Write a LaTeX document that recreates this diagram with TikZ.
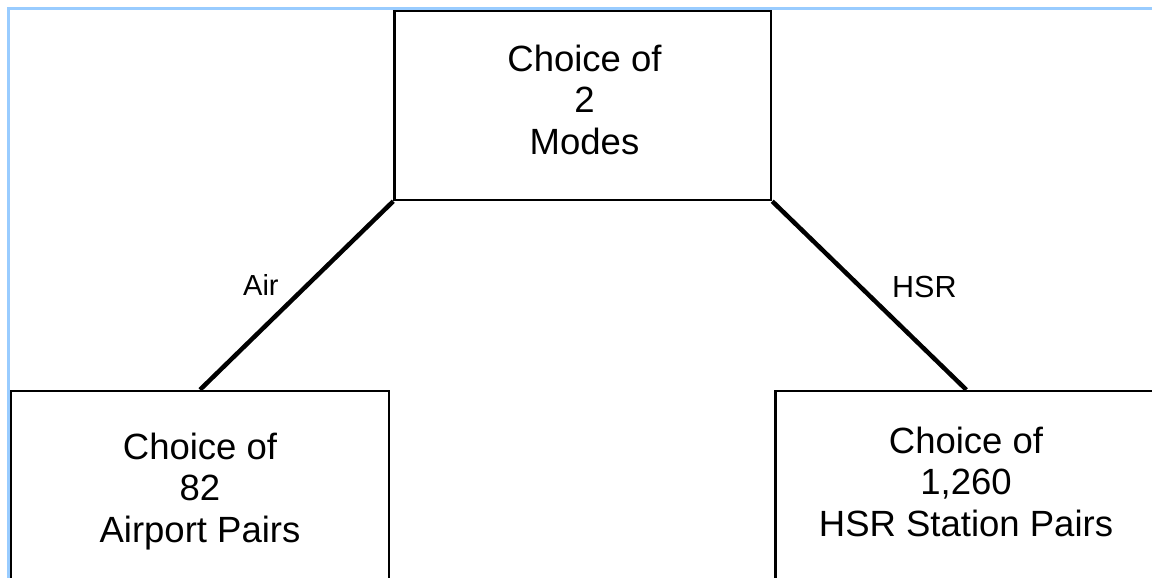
\documentclass[tikz,border=0pt]{standalone}
\usepackage{fontspec}
\setmainfont{Liberation Sans}
\definecolor{framebl}{RGB}{153,204,255}
\begin{document}
\begin{tikzpicture}[x=1pt,y=-1pt,
  boxst/.style={draw=black, line width=2.5pt, inner sep=0pt, rectangle},
  txtst/.style={font=\fontsize{36.5}{41.5}\selectfont, align=center, inner sep=0pt, anchor=north},
  lblst/.style={inner sep=0pt, anchor=base west},
  conn/.style={line width=4.5pt}]
\useasboundingbox (0,0) rectangle (1152,578);
% light blue frame
\draw[framebl, line width=3.5pt] (8.5,600) -- (8.5,8.5) -- (1170,8.5);
% boxes
\node[boxst, minimum width=376.5pt, minimum height=189pt] (top) at (582.75,105.5) {};
\node[boxst, minimum width=378pt, minimum height=200pt] (left) at (200,491) {};
\node[boxst, minimum width=382pt, minimum height=200pt] (right) at (966.3,491) {};
% box texts
\node[txtst] (toptxt) at (584.5,44.4) {Choice of\\2\\Modes};
\node[txtst] (lefttxt) at (200,432.4) {Choice of\\82\\Airport Pairs};
\node[txtst] (righttxt) at (966,426.4) {Choice of\\1,260\\HSR Station Pairs};
% connectors
\draw[conn] (top.south west) -- (left.north);
\draw[conn] (top.south east) -- (right.north);
% labels
\node[lblst, font=\fontsize{29}{34}\selectfont] (lair) at (243,295) {Air};
\node[lblst, font=\fontsize{30.5}{36}\selectfont] (lhsr) at (892,297) {HSR};
\end{tikzpicture}
\end{document}
